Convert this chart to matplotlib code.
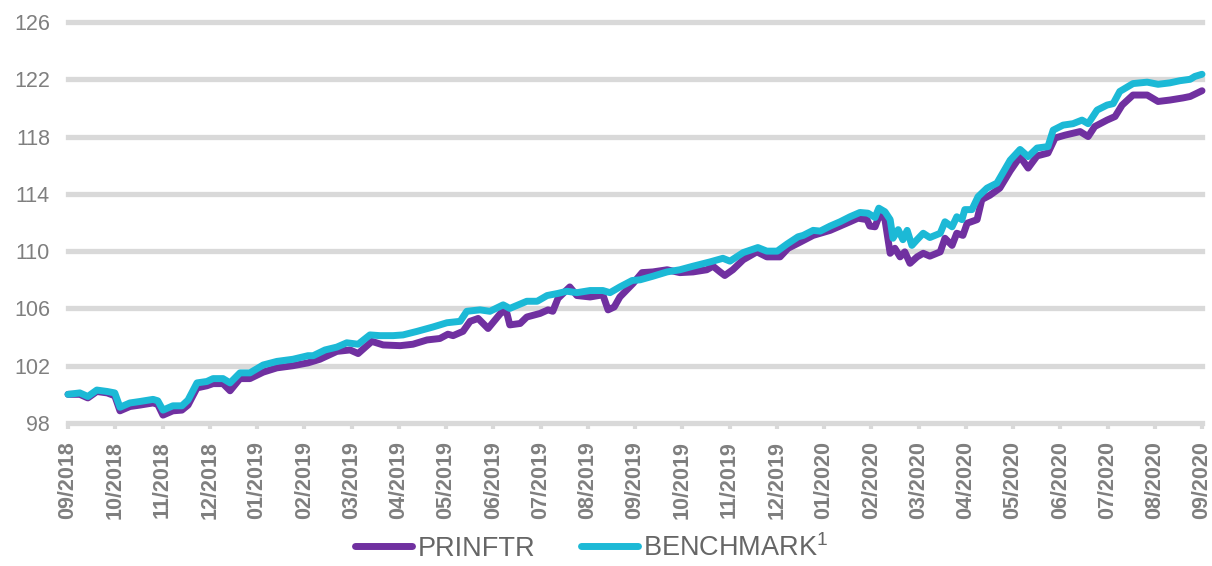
import matplotlib
matplotlib.use('Agg')
import matplotlib.pyplot as plt

plt.rcParams['font.family'] = ['Liberation Sans', 'DejaVu Sans']
plt.rcParams['mathtext.fontset'] = 'custom'
plt.rcParams['mathtext.rm'] = 'Liberation Sans'
plt.rcParams['mathtext.it'] = 'Liberation Sans'
plt.rcParams['mathtext.default'] = 'rm'

# months since 09/2018 and index values
prin_m = [0.0, 0.25, 0.42, 0.61, 0.83, 0.99, 1.10, 1.31, 1.52, 1.80, 1.90, 2.01, 2.22, 2.41,
          2.54, 2.73, 2.94, 3.07, 3.28, 3.43, 3.64, 3.85, 4.13, 4.42, 4.76, 5.08, 5.33, 5.69,
          5.97, 6.14, 6.43, 6.67, 7.03, 7.30, 7.60, 7.87, 8.04, 8.15, 8.36, 8.51, 8.68, 8.89,
          9.19, 9.29, 9.35, 9.57, 9.71, 9.99, 10.16, 10.26, 10.37, 10.62, 10.77, 11.05, 11.32,
          11.43, 11.56, 11.68, 11.96, 12.15, 12.38, 12.68, 12.95, 13.23, 13.52, 13.65, 13.80,
          13.90, 14.07, 14.29, 14.58, 14.79, 15.07, 15.24, 15.45, 15.77, 16.13, 16.55, 16.72,
          16.91, 16.97, 17.08, 17.19, 17.29, 17.40, 17.50, 17.61, 17.71, 17.82, 17.97, 18.10,
          18.24, 18.46, 18.56, 18.71, 18.81, 18.94, 19.03, 19.24, 19.34, 19.51, 19.72, 19.94,
          20.15, 20.32, 20.51, 20.74, 20.89, 21.10, 21.42, 21.59, 21.73, 21.99, 22.16, 22.31,
          22.54, 22.84, 23.07, 23.32, 23.60, 23.75, 24.0]
prin_v = [100.0, 100.0, 99.75, 100.2, 100.1, 99.9, 98.85, 99.15, 99.25, 99.4, 99.3, 98.55, 98.85,
          98.9, 99.25, 100.45, 100.6, 100.75, 100.75, 100.25, 101.1, 101.1, 101.55, 101.85, 102.0,
          102.2, 102.45, 103.0, 103.1, 102.85, 103.7, 103.45, 103.4, 103.5, 103.8, 103.9, 104.2,
          104.1, 104.4, 105.1, 105.3, 104.6, 105.8, 105.65, 104.85, 104.95, 105.4, 105.65, 105.9,
          105.8, 106.7, 107.5, 106.9, 106.8, 106.95, 105.9, 106.1, 106.8, 107.75, 108.5, 108.55,
          108.7, 108.5, 108.55, 108.7, 108.95, 108.55, 108.3, 108.7, 109.4, 109.95, 109.6, 109.6,
          110.2, 110.55, 111.1, 111.45, 112.05, 112.3, 112.2, 111.75, 111.7, 112.65, 112.2, 109.85,
          110.2, 109.6, 109.95, 109.15, 109.6, 109.85, 109.65, 109.95, 110.9, 110.4, 111.25, 111.1,
          111.95, 112.2, 113.6, 113.9, 114.4, 115.6, 116.6, 115.8, 116.65, 116.85, 117.9, 118.1,
          118.35, 118.0, 118.7, 119.15, 119.4, 120.2, 120.9, 120.9, 120.45, 120.55, 120.7, 120.8,
          121.2]

bench_m = [0.0, 0.25, 0.42, 0.61, 0.83, 0.99, 1.10, 1.31, 1.52, 1.80, 1.90, 2.01, 2.22, 2.41,
           2.54, 2.73, 2.94, 3.07, 3.28, 3.43, 3.64, 3.85, 4.13, 4.42, 4.76, 5.08, 5.19, 5.44,
           5.69, 5.90, 6.14, 6.39, 6.60, 6.88, 7.09, 7.39, 7.72, 8.02, 8.30, 8.44, 8.72, 8.93,
           9.21, 9.35, 9.71, 9.93, 10.14, 10.37, 10.56, 10.77, 11.05, 11.32, 11.47, 11.68, 11.94,
           12.11, 12.38, 12.68, 12.95, 13.23, 13.59, 13.86, 14.01, 14.29, 14.60, 14.79, 15.01,
           15.22, 15.45, 15.56, 15.77, 15.92, 16.13, 16.34, 16.55, 16.76, 16.93, 17.08, 17.16,
           17.29, 17.40, 17.46, 17.57, 17.67, 17.76, 17.86, 17.97, 18.10, 18.24, 18.46, 18.56,
           18.71, 18.81, 18.92, 18.98, 19.13, 19.26, 19.45, 19.66, 19.94, 20.15, 20.32, 20.51,
           20.74, 20.85, 21.06, 21.27, 21.46, 21.59, 21.78, 21.99, 22.12, 22.26, 22.54, 22.84,
           23.07, 23.32, 23.53, 23.75, 23.85, 24.0]
bench_v = [100.0, 100.1, 99.85, 100.3, 100.2, 100.1, 99.1, 99.4, 99.5, 99.65, 99.55, 98.9, 99.2,
           99.2, 99.6, 100.8, 100.9, 101.1, 101.1, 100.8, 101.5, 101.5, 102.05, 102.3, 102.45,
           102.7, 102.7, 103.1, 103.3, 103.6, 103.5, 104.15, 104.1, 104.1, 104.15, 104.4, 104.7,
           105.0, 105.1, 105.8, 105.9, 105.8, 106.25, 106.0, 106.5, 106.5, 106.9, 107.05, 107.2,
           107.1, 107.25, 107.25, 107.1, 107.5, 107.95, 108.0, 108.25, 108.55, 108.7, 108.95,
           109.25, 109.5, 109.3, 109.9, 110.25, 110.0, 110.0, 110.5, 111.0, 111.1, 111.45, 111.4,
           111.75, 112.05, 112.4, 112.7, 112.65, 112.35, 113.0, 112.75, 112.2, 110.9, 111.5,
           110.8, 111.45, 110.4, 110.8, 111.25, 110.95, 111.25, 112.05, 111.7, 112.4, 112.2,
           112.9, 112.9, 113.8, 114.4, 114.75, 116.35, 117.1, 116.6, 117.2, 117.3, 118.45, 118.8,
           118.9, 119.15, 118.9, 119.85, 120.2, 120.3, 121.15, 121.7, 121.8, 121.65, 121.75,
           121.9, 122.0, 122.2, 122.35]

tick_labels = ['09/2018', '10/2018', '11/2018', '12/2018', '01/2019', '02/2019', '03/2019',
               '04/2019', '05/2019', '06/2019', '07/2019', '08/2019', '09/2019', '10/2019',
               '11/2019', '12/2019', '01/2020', '02/2020', '03/2020', '04/2020', '05/2020',
               '06/2020', '07/2020', '08/2020', '09/2020']
y_ticks = [98, 102, 106, 110, 114, 118, 122, 126]

purple = '#7030A0'
cyan = '#1CB9D6'
grid_c = '#D9D9D9'
text_c = '#7F7F7F'

fig = plt.figure(figsize=(12.12, 5.66), dpi=100)
ax = fig.add_axes([68/1212, 1 - 423/566, (1202 - 68)/1212, (423 - 22)/566])

for y in y_ticks:
    ax.axhline(y, color=grid_c, lw=3.8, zorder=1, clip_on=False)

ax.plot(prin_m, prin_v, color=purple, lw=5.0, solid_capstyle='round',
        solid_joinstyle='round', label='PRINFTR', zorder=3, clip_on=False)
ax.plot(bench_m, bench_v, color=cyan, lw=5.0, solid_capstyle='round',
        solid_joinstyle='round', label=r'BENCHMARK$^{\mathregular{1}}$', zorder=4, clip_on=False)

ax.set_xlim(0, 24)
ax.set_ylim(98, 126)
ax.set_xticks(range(len(tick_labels)))
ax.set_xticklabels(tick_labels, rotation=90, fontweight='bold')
ax.set_yticks(y_ticks)
ax.tick_params(axis='x', colors=grid_c, length=4, width=3, pad=9, labelsize=15.5,
               labelcolor=text_c)
ax.tick_params(axis='y', length=0, pad=13, labelsize=15.5, labelcolor=text_c)
for s in ax.spines.values():
    s.set_visible(False)

fig.legend(loc='center', bbox_to_anchor=(592/1212, 0.032), ncol=2, frameon=False,
           fontsize=19.5, handlelength=2.1, handletextpad=0.2, columnspacing=1.7,
           labelcolor='#666666')

fig.savefig('out.png', dpi=100)
